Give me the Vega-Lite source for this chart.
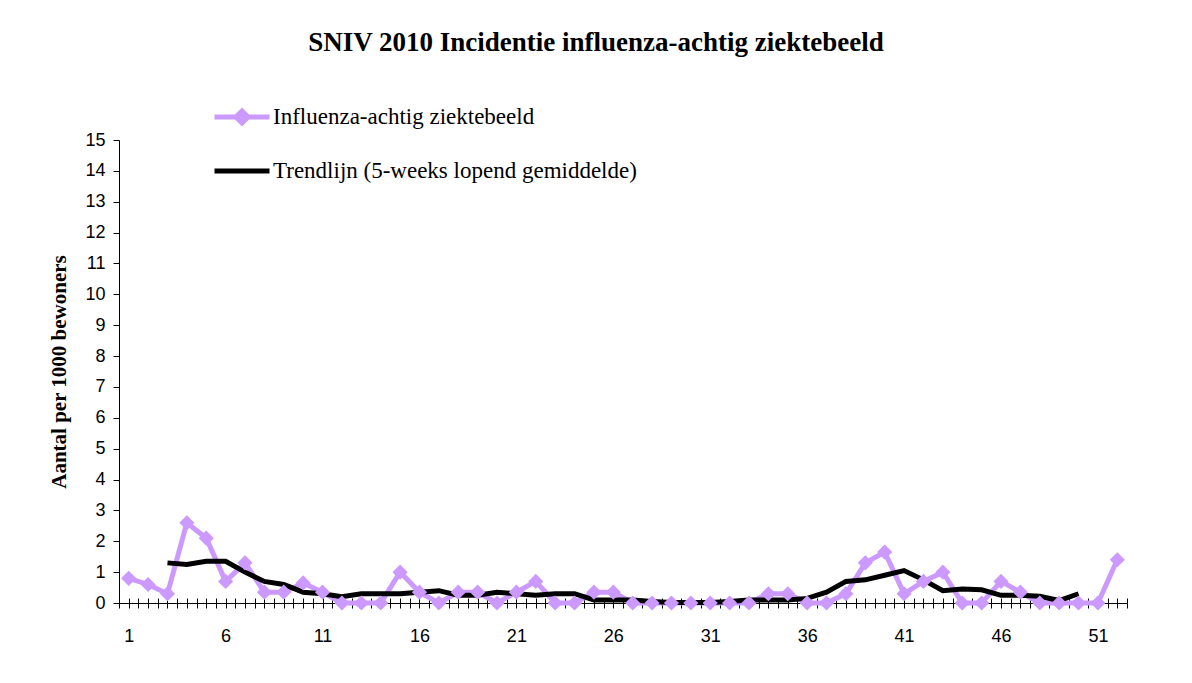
{
  "$schema": "https://vega.github.io/schema/vega-lite/v6.json",
  "autosize": "none",
  "width": 1008,
  "height": 463,
  "padding": {"left": 119, "top": 140, "right": 65, "bottom": 80},
  "background": "white",
  "config": {
    "view": {"stroke": null},
    "axis": {"labelFont": "Liberation Sans", "labelFontSize": 18, "labelColor": "black", "domainColor": "black", "tickColor": "black", "grid": false}
  },
  "title": {
    "text": "SNIV 2010 Incidentie influenza-achtig ziektebeeld",
    "font": "Liberation Serif",
    "fontSize": 27,
    "fontWeight": "bold",
    "color": "black",
    "anchor": "middle",
    "dx": -27,
    "offset": 30
  },
  "datasets": {
    "ili": [
      {"week": 1, "value": 0.8}, {"week": 2, "value": 0.6}, {"week": 3, "value": 0.3}, {"week": 4, "value": 2.6},
      {"week": 5, "value": 2.1}, {"week": 6, "value": 0.7}, {"week": 7, "value": 1.3}, {"week": 8, "value": 0.35},
      {"week": 9, "value": 0.35}, {"week": 10, "value": 0.65}, {"week": 11, "value": 0.35}, {"week": 12, "value": 0},
      {"week": 13, "value": 0}, {"week": 14, "value": 0}, {"week": 15, "value": 1.0}, {"week": 16, "value": 0.35},
      {"week": 17, "value": 0}, {"week": 18, "value": 0.35}, {"week": 19, "value": 0.35}, {"week": 20, "value": 0},
      {"week": 21, "value": 0.35}, {"week": 22, "value": 0.7}, {"week": 23, "value": 0}, {"week": 24, "value": 0},
      {"week": 25, "value": 0.35}, {"week": 26, "value": 0.35}, {"week": 27, "value": 0}, {"week": 28, "value": 0},
      {"week": 29, "value": 0}, {"week": 30, "value": 0}, {"week": 31, "value": 0}, {"week": 32, "value": 0},
      {"week": 33, "value": 0}, {"week": 34, "value": 0.3}, {"week": 35, "value": 0.3}, {"week": 36, "value": 0},
      {"week": 37, "value": 0}, {"week": 38, "value": 0.3}, {"week": 39, "value": 1.3}, {"week": 40, "value": 1.65},
      {"week": 41, "value": 0.3}, {"week": 42, "value": 0.7}, {"week": 43, "value": 1.0}, {"week": 44, "value": 0},
      {"week": 45, "value": 0}, {"week": 46, "value": 0.7}, {"week": 47, "value": 0.35}, {"week": 48, "value": 0},
      {"week": 49, "value": 0}, {"week": 50, "value": 0}, {"week": 51, "value": 0}, {"week": 52, "value": 1.4}
    ],
    "trend": [
      {"week": 3, "value": 1.3}, {"week": 4, "value": 1.25}, {"week": 5, "value": 1.35}, {"week": 6, "value": 1.35},
      {"week": 7, "value": 1.0}, {"week": 8, "value": 0.7}, {"week": 9, "value": 0.6}, {"week": 10, "value": 0.35},
      {"week": 11, "value": 0.3}, {"week": 12, "value": 0.2}, {"week": 13, "value": 0.3}, {"week": 14, "value": 0.3},
      {"week": 15, "value": 0.3}, {"week": 16, "value": 0.35}, {"week": 17, "value": 0.4}, {"week": 18, "value": 0.25},
      {"week": 19, "value": 0.25}, {"week": 20, "value": 0.35}, {"week": 21, "value": 0.3}, {"week": 22, "value": 0.25},
      {"week": 23, "value": 0.3}, {"week": 24, "value": 0.3}, {"week": 25, "value": 0.1}, {"week": 26, "value": 0.1},
      {"week": 27, "value": 0.1}, {"week": 28, "value": 0.05}, {"week": 29, "value": 0.02}, {"week": 30, "value": 0.02},
      {"week": 31, "value": 0.02}, {"week": 32, "value": 0.05}, {"week": 33, "value": 0.1}, {"week": 34, "value": 0.1},
      {"week": 35, "value": 0.1}, {"week": 36, "value": 0.15}, {"week": 37, "value": 0.35}, {"week": 38, "value": 0.7},
      {"week": 39, "value": 0.75}, {"week": 40, "value": 0.9}, {"week": 41, "value": 1.05}, {"week": 42, "value": 0.75},
      {"week": 43, "value": 0.4}, {"week": 44, "value": 0.45}, {"week": 45, "value": 0.43}, {"week": 46, "value": 0.25},
      {"week": 47, "value": 0.25}, {"week": 48, "value": 0.22}, {"week": 49, "value": 0.08}, {"week": 50, "value": 0.3}
    ]
  },
  "encoding": {
    "y": {
      "field": "value", "type": "quantitative",
      "scale": {"domain": [0, 15], "nice": false},
      "axis": {
        "title": "Aantal per 1000 bewoners",
        "titleFont": "Liberation Serif", "titleFontSize": 21, "titleFontWeight": "bold", "titleColor": "black",
        "titlePadding": 15,
        "values": [0,1,2,3,4,5,6,7,8,9,10,11,12,13,14,15],
        "labelOverlap": false,
        "tickSize": 6,
        "labelPadding": 8
      }
    },
    "color": {
      "field": "reeks", "type": "nominal",
      "scale": {"domain": ["Influenza-achtig ziektebeeld", "Trendlijn (5-weeks lopend gemiddelde)"], "range": ["#cc99ff", "#000000"]},
      "legend": {
        "title": null,
        "orient": "none",
        "legendX": 93,
        "legendY": -53,
        "labelFont": "Liberation Serif",
        "labelFontSize": 23,
        "labelColor": "black",
        "labelOffset": 1,
        "labelLimit": 0,
        "symbolSize": 3025,
        "symbolStrokeWidth": 5,
        "rowPadding": 7,
        "encode": {
          "symbols": {
            "update": {
              "shape": {"signal": "datum.value == 'Influenza-achtig ziektebeeld' ? 'M-1,0H1M-0.22,0L0,-0.22L0.22,0L0,0.22Z' : 'M-1,0H1'"},
              "fill": {"signal": "datum.value == 'Influenza-achtig ziektebeeld' ? '#cc99ff' : 'transparent'"},
              "stroke": {"signal": "datum.value == 'Influenza-achtig ziektebeeld' ? '#cc99ff' : '#000000'"},
              "strokeWidth": {"value": 5},
              "opacity": {"value": 1}
            }
          }
        }
      }
    }
  },
  "resolve": {"axis": {"x": "independent"}},
  "layer": [
    {
      "data": {"name": "ili"},
      "transform": [{"calculate": "'Influenza-achtig ziektebeeld'", "as": "reeks"}],
      "mark": {"type": "line", "strokeWidth": 5, "clip": false},
      "encoding": {
        "x": {
          "field": "week", "type": "quantitative",
          "scale": {"domain": [0.5, 52.5], "nice": false, "zero": false},
          "axis": {
            "title": null,
            "orient": "bottom",
            "values": [0.5,1,1.5,2,2.5,3,3.5,4,4.5,5,5.5,6,6.5,7,7.5,8,8.5,9,9.5,10,10.5,11,11.5,12,12.5,13,13.5,14,14.5,15,15.5,16,16.5,17,17.5,18,18.5,19,19.5,20,20.5,21,21.5,22,22.5,23,23.5,24,24.5,25,25.5,26,26.5,27,27.5,28,28.5,29,29.5,30,30.5,31,31.5,32,32.5,33,33.5,34,34.5,35,35.5,36,36.5,37,37.5,38,38.5,39,39.5,40,40.5,41,41.5,42,42.5,43,43.5,44,44.5,45,45.5,46,46.5,47,47.5,48,48.5,49,49.5,50,50.5,51,51.5,52,52.5],
            "labelExpr": "(datum.value % 5 == 1) ? ('' + datum.value) : ''",
            "tickSize": 5,
            "labelPadding": 19,
            "labelFlush": false,
            "labelOverlap": false,
            "domainWidth": 1,
            "tickWidth": 1
          }
        }
      }
    },
    {
      "data": {"name": "trend"},
      "transform": [{"calculate": "'Trendlijn (5-weeks lopend gemiddelde)'", "as": "reeks"}],
      "mark": {"type": "line", "strokeWidth": 5, "clip": false},
      "encoding": {
        "x": {"field": "week", "type": "quantitative", "axis": null}
      }
    },
    {
      "data": {"name": "ili"},
      "transform": [{"calculate": "'Influenza-achtig ziektebeeld'", "as": "reeks"}],
      "mark": {"type": "point", "shape": "diamond", "filled": true, "size": 230, "opacity": 1, "clip": false},
      "encoding": {
        "x": {
          "field": "week", "type": "quantitative",
          "axis": {
            "title": null,
            "orient": "bottom",
            "values": [0.5,1,1.5,2,2.5,3,3.5,4,4.5,5,5.5,6,6.5,7,7.5,8,8.5,9,9.5,10,10.5,11,11.5,12,12.5,13,13.5,14,14.5,15,15.5,16,16.5,17,17.5,18,18.5,19,19.5,20,20.5,21,21.5,22,22.5,23,23.5,24,24.5,25,25.5,26,26.5,27,27.5,28,28.5,29,29.5,30,30.5,31,31.5,32,32.5,33,33.5,34,34.5,35,35.5,36,36.5,37,37.5,38,38.5,39,39.5,40,40.5,41,41.5,42,42.5,43,43.5,44,44.5,45,45.5,46,46.5,47,47.5,48,48.5,49,49.5,50,50.5,51,51.5,52,52.5],
            "labels": false,
            "domain": false,
            "tickSize": -5,
            "tickWidth": 1,
            "zindex": 0
          }
        }
      }
    }
  ]
}
